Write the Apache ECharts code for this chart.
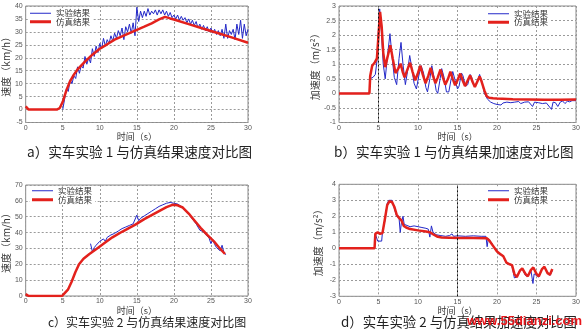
<!DOCTYPE html>
<html>
<head>
<meta charset="utf-8">
<title>实车实验与仿真结果对比图</title>
<script src="https://cdn.jsdelivr.net/npm/echarts@6/dist/echarts.min.js"></script>
<style>
  html, body { margin: 0; padding: 0; background: #fff; }
  #chart { width: 583px; height: 334px; }
</style>
</head>
<body>
<div id="chart"></div>
<script>
// 图例名称
const legendNames = ["实验结果", "仿真结果"];

// a）实车实验1 速度 仿真结果 [时间s, 速度km/h]
const simSpeed1 = [
  [0, 1.2], [0.4, 0], [4.2, 0], [4.6, 0.6], [5.0, 3], [5.5, 7.5], [6, 11], [6.5, 13.5],
  [7, 15.5], [8, 18.5], [9, 21.2], [10, 23.5], [11, 25.2], [12, 27], [13, 28.3], [14, 29.5],
  [15, 30.8], [16, 32], [17, 33.3], [18, 34.8], [18.8, 35.8], [19.5, 35.2], [20, 34.8],
  [22, 33], [24, 31.2], [26, 29.5], [28, 27.7], [30, 25.8]
];
// a）实验结果，从5s开始每0.25s一个采样
const expSpeed1Start = 5;
const expSpeed1Step = 0.25;
const expSpeed1 = [
  0, 4, 8, 7, 11.5, 10, 13, 12, 16.5, 14, 17, 16, 20.5, 17.5, 20, 18, 23.5, 20.5, 24.5, 22,
  25.5, 23.5, 27.5, 24.5, 27, 25.5, 28.5, 26.5, 29.5, 27.5, 30.5, 28.5, 31.5, 27, 32, 30, 33, 29.5, 33.5, 28.5,
  39.5, 34, 38, 35.5, 38, 36, 39, 36.5, 38, 37, 38.5, 36.5, 38.5, 37, 38.5, 36.5, 38, 36, 37.5, 35.5,
  36.5, 35, 36.5, 34.5, 36, 34.5, 35.5, 33.5, 35, 33, 34.5, 32.5, 34, 31.5, 33, 31, 32.5, 30.5, 32, 30,
  31.5, 29.5, 31, 29, 30.5, 28.5, 31, 27.5, 33, 27.5, 30.5, 29, 31, 27, 33, 29, 34.5, 27.5, 33, 28.5, 31
];

// b）实车实验1 加速度 [时间s, 加速度m/s²]
const simAcc1 = [
  [0, 0], [3.85, 0], [3.95, 0.6], [4.2, 0.95], [4.5, 1.05], [4.8, 1.2], [5.0, 2.0], [5.2, 2.8],
  [5.4, 2.3], [5.6, 1.4], [5.85, 0.9], [6.1, 1.2], [6.5, 1.65], [6.8, 1.2], [7.15, 0.7], [7.5, 0.85],
  [7.8, 1.02], [8.05, 0.75], [8.3, 0.55], [8.7, 0.85], [9.0, 1.05], [9.3, 0.75], [9.65, 0.45],
  [10.0, 0.7], [10.3, 0.95], [10.6, 0.65], [10.95, 0.35], [11.3, 0.6], [11.6, 0.88], [11.9, 0.6],
  [12.2, 0.35], [12.5, 0.55], [12.85, 0.82], [13.15, 0.55], [13.45, 0.3], [13.8, 0.5], [14.1, 0.75],
  [14.4, 0.5], [14.7, 0.28], [15.0, 0.45], [15.35, 0.68], [15.65, 0.45], [15.95, 0.25], [16.3, 0.45],
  [16.6, 0.62], [16.9, 0.4], [17.2, 0.22], [17.5, 0.4], [17.8, 0.58], [18.0, 0.45], [18.4, 0.1],
  [18.7, -0.1], [19.0, -0.15], [19.5, -0.17], [20, -0.18], [22, -0.2], [24, -0.21], [26, -0.22],
  [28, -0.22], [30, -0.21]
];
const expAcc1 = [
  [0, 0], [3.85, 0], [3.9, 0.5], [4.3, 0.55], [4.6, 0.65], [4.8, 1.1], [5.0, 2.2], [5.15, 2.9],
  [5.35, 2.2], [5.6, 1.0], [5.85, 0.5], [6.1, 1.2], [6.45, 2.05], [6.7, 1.3], [7.0, 0.55], [7.3, 0.3],
  [7.6, 1.2], [7.85, 1.75], [8.1, 1.0], [8.4, 0.3], [8.7, 0.8], [8.95, 1.3], [9.2, 0.9], [9.5, 0.35],
  [9.8, 0.15], [10.1, 0.6], [10.4, 0.95], [10.7, 0.7], [11.0, 0.2], [11.2, 0.05], [11.5, 0.5],
  [11.75, 0.95], [12.0, 0.6], [12.3, 0.1], [12.5, 0.0], [12.8, 0.5], [13.0, 0.85], [13.3, 0.55],
  [13.6, 0.05], [13.9, 0.05], [14.2, 0.5], [14.4, 0.75], [14.7, 0.45], [15.0, 0.15], [15.2, 0.25],
  [15.5, 0.7], [15.7, 0.6], [16.0, 0.25], [16.3, 0.3], [16.6, 0.65], [16.8, 0.55], [17.1, 0.25],
  [17.4, 0.35], [17.8, 0.65], [18.1, 0.4], [18.4, 0.0], [18.8, -0.2], [19.2, -0.3], [19.6, -0.35],
  [20.0, -0.38], [20.25, -0.35], [20.5, -0.4], [20.75, -0.33], [21.0, -0.38], [21.25, -0.3],
  [21.5, -0.36], [21.75, -0.32], [22.0, -0.37], [22.25, -0.3], [22.5, -0.34], [22.75, -0.28],
  [23.0, -0.35], [23.25, -0.31], [23.5, -0.3], [23.75, -0.36], [24.0, -0.29], [24.25, -0.33],
  [24.5, -0.45], [24.75, -0.3], [25.0, -0.28], [25.25, -0.32], [25.5, -0.3], [25.75, -0.35],
  [26.0, -0.3], [26.25, -0.33], [26.5, -0.28], [26.9, -0.55], [27.1, -0.3], [27.4, -0.32],
  [27.7, -0.45], [28.0, -0.3], [28.3, -0.26], [28.6, -0.35], [28.9, -0.27], [29.2, -0.29],
  [29.5, -0.25], [29.75, -0.28], [30.0, -0.25]
];

// c）实车实验2 速度
const simSpeed2 = [
  [0, 1.2], [0.4, 0], [4.9, 0], [5.2, 1.5], [5.7, 4], [6.2, 9], [6.7, 15], [7.2, 20], [7.8, 23.5],
  [8.6, 26.5], [9.5, 29.5], [10.5, 33], [11.7, 37], [13, 40.5], [14.8, 45], [16, 48.5], [17, 51],
  [18, 53.5], [19, 56], [19.8, 57.5], [20.5, 57.2], [21.2, 55.8], [22, 52], [22.8, 47.5],
  [23.6, 43], [24.5, 38.5], [25.4, 34.5], [26.2, 30], [26.9, 26.5]
];
// c）实验结果，从8.75s开始每0.25s一个采样
const expSpeed2Start = 8.75;
const expSpeed2Step = 0.25;
const expSpeed2 = [
  33, 28, 30.5, 32, 31, 34.5, 33.5, 36, 34.5, 37, 36.5, 38.5, 38, 39.5, 39, 41, 40.5, 42.5, 42, 43.5,
  43, 44.5, 44, 45.5, 45, 51, 47.5, 49, 48.5, 50.5, 51, 52, 52.5, 53.5, 54, 55, 55.5, 56.5, 56, 57.5,
  57.5, 58.5, 59.5, 59, 58, 58.5, 57.5, 58, 57, 56.5, 55.5, 54, 53.5, 51.5, 50, 48.5, 47, 45.5, 44.5, 41.5,
  42, 40.5, 39, 38.5, 36.5, 33, 35.5, 32.5, 30.5, 31.5, 28.5, 32, 27.5, 26
];

// d）实车实验2 加速度
const simAcc2 = [
  [0, 0], [4.5, 0], [4.6, 0.9], [4.9, 1.0], [5.2, 0.9], [5.5, 0.95], [5.8, 1.8], [6.1, 2.7],
  [6.4, 2.95], [6.7, 2.9], [7.0, 2.6], [7.3, 2.1], [7.6, 1.9], [7.9, 1.75], [8.2, 1.4], [8.5, 1.3],
  [9.0, 1.2], [10, 1.12], [11, 1.05], [11.5, 1.0], [12, 0.85], [12.5, 0.72], [13, 0.68], [15, 0.65],
  [17, 0.65], [18.7, 0.63], [19.0, 0.5], [19.5, 0.15], [20.0, -0.2], [20.4, -0.35], [20.8, -0.5],
  [21.2, -0.9], [21.6, -1.0], [21.9, -1.05], [22.2, -1.6], [22.5, -1.8], [22.9, -1.4], [23.2, -1.25],
  [23.6, -1.6], [23.9, -1.75], [24.3, -1.35], [24.6, -1.2], [25.0, -1.6], [25.3, -1.75], [25.7, -1.3],
  [26.0, -1.15], [26.4, -1.55], [26.7, -1.65], [27.0, -1.3]
];
const expAcc2 = [
  [0, 0], [4.5, 0], [4.6, 0.9], [4.8, 1.0], [4.9, 0.45], [5.4, 0.45], [5.5, 1.0], [5.8, 1.7],
  [6.1, 2.8], [6.3, 3.0], [6.7, 3.0], [7.0, 2.5], [7.3, 2.0], [7.6, 1.9], [7.75, 1.0], [7.9, 1.6],
  [8.1, 2.0], [8.25, 1.5], [8.5, 1.4], [9, 1.35], [9.5, 1.4], [10, 1.35], [10.5, 1.3], [11, 1.25],
  [11.3, 1.2], [11.5, 0.7], [11.7, 1.4], [11.9, 1.0], [12.3, 0.85], [12.8, 0.8], [13.5, 0.75],
  [14, 0.8], [14.3, 0.9], [14.5, 0.75], [15, 0.78], [16, 0.75], [17, 0.78], [18, 0.75], [18.6, 0.75],
  [18.75, 0.1], [18.9, 0.6], [19.3, 0.35], [19.7, 0.0], [20, -0.15], [20.3, -0.4], [20.6, -0.4],
  [20.9, -0.6], [21.2, -0.95], [21.6, -1.0], [21.9, -1.1], [22.2, -1.85], [22.5, -1.8], [22.9, -1.35],
  [23.2, -1.3], [23.6, -1.7], [23.9, -1.75], [24.3, -1.4], [24.55, -2.2], [24.7, -1.6], [25.0, -1.7],
  [25.3, -1.8], [25.7, -1.3], [26.0, -1.2], [26.4, -1.5], [26.7, -1.7], [27.0, -1.4]
];

// 图标题
const captions = [
  "a）实车实验 1 与仿真结果速度对比图",
  "b）实车实验 1 与仿真结果加速度对比图",
  "c）实车实验 2 与仿真结果速度对比图",
  "d）实车实验 2 与仿真结果加速度对比图"
];
const xName = "时间（s）";
const yNames = ["速度（km/h）", "加速度（m/s²）", "速度（km/h）", "加速度（m/s²）"];
// y轴范围 [min, max, interval]
const yRanges = [[-5, 40, 5], [-1, 3, 0.5], [0, 70, 10], [-3, 4, 1]];

// 等间隔采样 -> [t, v]
function toPairs(start, step, values) {
  return values.map((v, i) => [+(start + i * step).toFixed(2), v]);
}

const cjk = "Noto Sans CJK SC";
const blue = "#2328c8";
const red = "#e3211c";

const grids = [
  { left: 22, top: 6, width: 226, height: 116.5 },
  { left: 339, top: 6, width: 237, height: 116.5 },
  { left: 22, top: 185, width: 226, height: 111 },
  { left: 339, top: 184.3, width: 237, height: 112 }
].map((g) => Object.assign(g, { show: true, borderColor: "#8a8a8a", borderWidth: 1 }));

const splitStyle = { show: true, lineStyle: { color: "#9a9a9a", type: [2, 2], width: 1 } };
const labelStyle = { fontSize: 7, color: "#555", fontFamily: "Liberation Sans" };

const xAxes = grids.map((g, i) => ({
  type: "value",
  gridIndex: i,
  min: 0,
  max: 30,
  interval: 5,
  name: xName,
  nameLocation: "middle",
  nameGap: i < 2 ? 9 : 8,
  nameTextStyle: { fontSize: 9, color: "#333", fontFamily: cjk },
  axisLine: { show: false },
  axisTick: { show: false },
  axisLabel: Object.assign({ margin: 2 }, labelStyle),
  splitLine: splitStyle
}));

const yAxes = grids.map((g, i) => ({
  type: "value",
  gridIndex: i,
  min: yRanges[i][0],
  max: yRanges[i][1],
  interval: yRanges[i][2],
  name: yNames[i],
  nameLocation: "middle",
  nameGap: i % 2 === 0 ? 9 : 16,
  nameTextStyle: { fontSize: 10, color: "#333", fontFamily: cjk },
  axisLine: { show: false },
  axisTick: { show: false },
  axisLabel: Object.assign({ margin: 3 }, labelStyle),
  splitLine: splitStyle
}));

const expData = [
  toPairs(expSpeed1Start, expSpeed1Step, expSpeed1),
  expAcc1,
  toPairs(expSpeed2Start, expSpeed2Step, expSpeed2),
  expAcc2
];
const simData = [simSpeed1, simAcc1, simSpeed2, simAcc2];
// 黑色虚线参考线
const refLines = [null, 5, null, 15];

const series = [];
for (let i = 0; i < 4; i++) {
  series.push({
    name: legendNames[0],
    type: "line",
    xAxisIndex: i,
    yAxisIndex: i,
    symbol: "none",
    lineStyle: { color: blue, width: 1 },
    itemStyle: { color: blue },
    data: expData[i],
    markLine: refLines[i] === null ? undefined : {
      silent: true,
      symbol: "none",
      label: { show: false },
      lineStyle: { color: "#111", type: [2, 2], width: 1 },
      data: [{ xAxis: refLines[i] }]
    },
    z: 2
  });
  series.push({
    name: legendNames[1],
    type: "line",
    xAxisIndex: i,
    yAxisIndex: i,
    symbol: "none",
    lineStyle: { color: red, width: 2.5 },
    itemStyle: { color: red },
    data: simData[i],
    z: 3
  });
}

// 图例：每个面板两行，细蓝线 / 粗红线 [left, 第一行中心y, 第二行中心y]
const legendPos = [
  [28, 13, 21.5],
  [486, 13.5, 22],
  [30, 190.5, 199.5],
  [486, 190.5, 199.5]
];
const legends = [];
legendPos.forEach((p) => {
  [0, 1].forEach((k) => {
    legends.push({
      left: p[0],
      top: (k === 0 ? p[1] : p[2]) - 4,
      orient: "vertical",
      data: [legendNames[k]],
      icon: "rect",
      itemWidth: 21,
      itemHeight: k === 0 ? 1 : 3,
      padding: [0, 3, 0, 2],
      backgroundColor: "#fff",
      selectedMode: false,
      z: 4 + k,
      textStyle: { fontSize: 8.5, lineHeight: 8, color: "#333", fontFamily: cjk }
    });
  });
});

const chart = echarts.init(document.getElementById("chart"), null, { renderer: "canvas" });
chart.setOption({
  animation: false,
  backgroundColor: "#fff",
  grid: grids,
  xAxis: xAxes,
  yAxis: yAxes,
  legend: legends,
  series: series,
  graphic: [
    { type: "text", left: 27, top: 145, style: { text: captions[0], fontSize: 13.6, fill: "#222", fontFamily: cjk } },
    { type: "text", left: 334, top: 145, style: { text: captions[1], fontSize: 13.6, fill: "#222", fontFamily: cjk } },
    { type: "text", left: 48, top: 316, style: { text: captions[2], fontSize: 12, fill: "#222", fontFamily: cjk } },
    { type: "text", left: 341, top: 315, style: { text: captions[3], fontSize: 13.4, fill: "#222", fontFamily: cjk } },
    {
      type: "text", left: 467, top: 315, z: 10,
      style: { text: "www.55dianzi.com", fontSize: 13, fontWeight: "bold", fill: "#e8161b", fontFamily: "Liberation Sans" }
    }
  ]
});
</script>
</body>
</html>
